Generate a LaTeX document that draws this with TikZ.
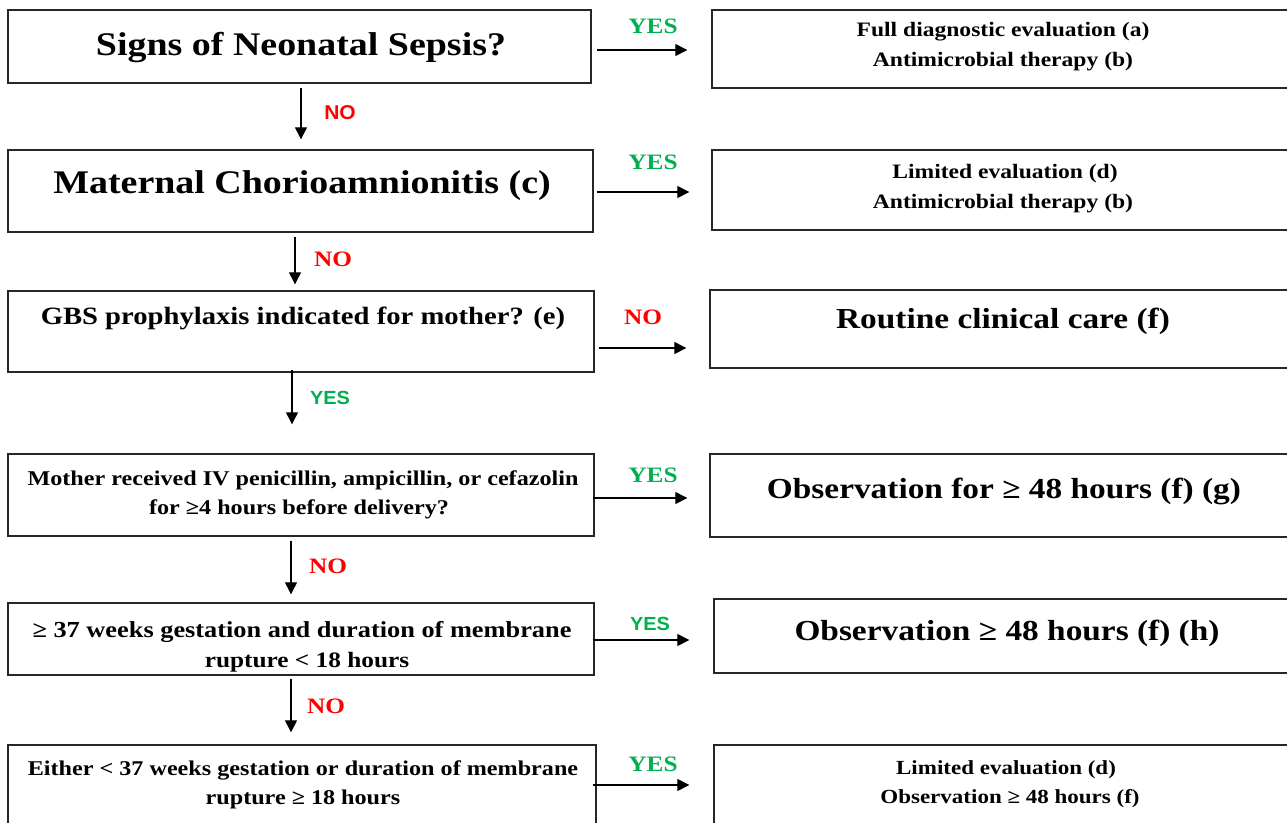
\documentclass[tikz,border=0pt]{standalone}
\usepackage{fontspec}
\setmainfont[FakeStretch=1.15]{Liberation Serif}
\newfontfamily\lsans[FakeStretch=1.05]{Liberation Sans}
\usetikzlibrary{arrows.meta}
\definecolor{ygreen}{RGB}{0,176,80}
\definecolor{nred}{RGB}{255,0,0}
\newcommand{\fsz}[1]{\fontsize{#1}{#1}\selectfont}
\begin{document}
\begin{tikzpicture}[x=1pt,y=-1pt,
  box/.style={draw=black!85,line width=1.4pt,rectangle,inner sep=0pt},
  txt/.style={anchor=base,inner sep=0pt,font=\bfseries},
  arr/.style={draw=black,line width=1.3pt,-{Triangle[length=12pt,width=12pt]}},
  yesl/.style={text=ygreen,inner sep=0pt,font=\bfseries\fsz{22}},
  nol/.style={text=nred,inner sep=0pt,font=\bfseries\fsz{22}},
  yess/.style={text=ygreen,inner sep=0pt,font=\lsans\bfseries\fsz{19}},
  nos/.style={text=nred,inner sep=0pt,font=\lsans\bfseries\fsz{20}}]
\useasboundingbox (0,0) rectangle (1287,822);
\clip (0,0) rectangle (1287,822);
% left boxes
\node[box,minimum width=583pt,minimum height=73pt] (b1) at (299.5,46.5) {};
\node[box,minimum width=585pt,minimum height=82pt] (b2) at (300.5,191) {};
\node[box,minimum width=586pt,minimum height=81pt] (b3) at (301,331.5) {};
\node[box,minimum width=586pt,minimum height=82pt] (b4) at (301,495) {};
\node[box,minimum width=586pt,minimum height=72pt] (b5) at (301,639) {};
\node[box,minimum width=588pt,minimum height=85pt] (b6) at (302,787.5) {};
% right boxes
\node[box,minimum width=588pt,minimum height=78pt] (r1) at (1006,49) {};
\node[box,minimum width=588pt,minimum height=80pt] (r2) at (1006,190) {};
\node[box,minimum width=590pt,minimum height=78pt] (r3) at (1005,329) {};
\node[box,minimum width=590pt,minimum height=83pt] (r4) at (1005,495.5) {};
\node[box,minimum width=586pt,minimum height=74pt] (r5) at (1007,636) {};
\node[box,minimum width=586pt,minimum height=85pt] (r6) at (1007,787.5) {};
% texts left
\node[txt,font=\bfseries\fsz{33}] (t1) at (301,55) {Signs of Neonatal Sepsis?};
\node[txt,font=\bfseries\fsz{33}] (t2) at (302,193) {Maternal Chorioamnionitis (c)};
\node[txt,font=\bfseries\fsz{24.9}] (t3) at (303,324) {GBS prophylaxis indicated for mother? (e)};
\node[txt,font=\bfseries\fsz{21}] (t4a) at (303,485) {Mother received IV penicillin, ampicillin, or cefazolin};
\node[txt,font=\bfseries\fsz{21}] (t4b) at (299,514) {for ≥4 hours before delivery?};
\node[txt,font=\bfseries\fsz{22.9}] (t5a) at (302,637) {≥ 37 weeks gestation and duration of membrane};
\node[txt,font=\bfseries\fsz{22}] (t5b) at (307,667) {rupture < 18 hours};
\node[txt,font=\bfseries\fsz{21}] (t6a) at (303,775) {Either < 37 weeks gestation or duration of membrane};
\node[txt,font=\bfseries\fsz{21}] (t6b) at (303,804) {rupture ≥ 18 hours};
% texts right
\node[txt,font=\bfseries\fsz{20.5}] (s1a) at (1003,36) {Full diagnostic evaluation (a)};
\node[txt,font=\bfseries\fsz{20.5}] (s1b) at (1003,66) {Antimicrobial therapy (b)};
\node[txt,font=\bfseries\fsz{20.5}] (s2a) at (1005,178) {Limited evaluation (d)};
\node[txt,font=\bfseries\fsz{20.5}] (s2b) at (1003,208) {Antimicrobial therapy (b)};
\node[txt,font=\bfseries\fsz{29}] (s3) at (1003,328) {Routine clinical care (f)};
\node[txt,font=\bfseries\fsz{29}] (s4) at (1004,498) {Observation for ≥ 48 hours (f) (g)};
\node[txt,font=\bfseries\fsz{29}] (s5) at (1007,640) {Observation ≥ 48 hours (f) (h)};
\node[txt,font=\bfseries\fsz{20}] (s6a) at (1006,774) {Limited evaluation (d)};
\node[txt,font=\bfseries\fsz{20}] (s6b) at (1010,803) {Observation ≥ 48 hours (f)};
% vertical arrows
\draw[arr] ([yshift=-4pt]b1.south -| 301,0) -- ([yshift=10pt]b2.north -| 301,0);
\draw[arr] ([yshift=-4pt]b2.south -| 295,0) -- ([yshift=6pt]b3.north -| 295,0);
\draw[arr] ([yshift=3pt]b3.south -| 292,0) -- ([yshift=29pt]b4.north -| 292,0);
\draw[arr] ([yshift=-4pt]b4.south -| 291,0) -- ([yshift=8pt]b5.north -| 291,0);
\draw[arr] ([yshift=-3pt]b5.south -| 291,0) -- ([yshift=12pt]b6.north -| 291,0);
% horizontal arrows
\draw[arr] ([xshift=5pt]b1.east |- 0,50) -- ([xshift=-24pt]r1.west |- 0,50);
\draw[arr] ([xshift=3pt]b2.east |- 0,192) -- ([xshift=-22pt]r2.west |- 0,192);
\draw[arr] ([xshift=4pt]b3.east |- 0,348) -- ([xshift=-23pt]r3.west |- 0,348);
\draw[arr] ([xshift=-2pt]b4.east |- 0,498) -- ([xshift=-22pt]r4.west |- 0,498);
\draw[arr] ([xshift=-2pt]b5.east |- 0,640) -- ([xshift=-24pt]r5.west |- 0,640);
\draw[arr] ([xshift=-4pt]b6.east |- 0,785) -- ([xshift=-24pt]r6.west |- 0,785);
% labels
\node[yesl] (l1) at (653,26) {YES};
\node[nos] (l2) at (340,113) {NO};
\node[yesl] (l3) at (653,162) {YES};
\node[nol] (l4) at (333,259) {NO};
\node[nol] (l5) at (643,317) {NO};
\node[yess] (l6) at (330,398) {YES};
\node[yesl] (l7) at (653,475) {YES};
\node[nol] (l8) at (328,566) {NO};
\node[yess] (l9) at (650,624) {YES};
\node[nol] (l10) at (326,706) {NO};
\node[yesl] (l11) at (653,764) {YES};
\end{tikzpicture}
\end{document}
